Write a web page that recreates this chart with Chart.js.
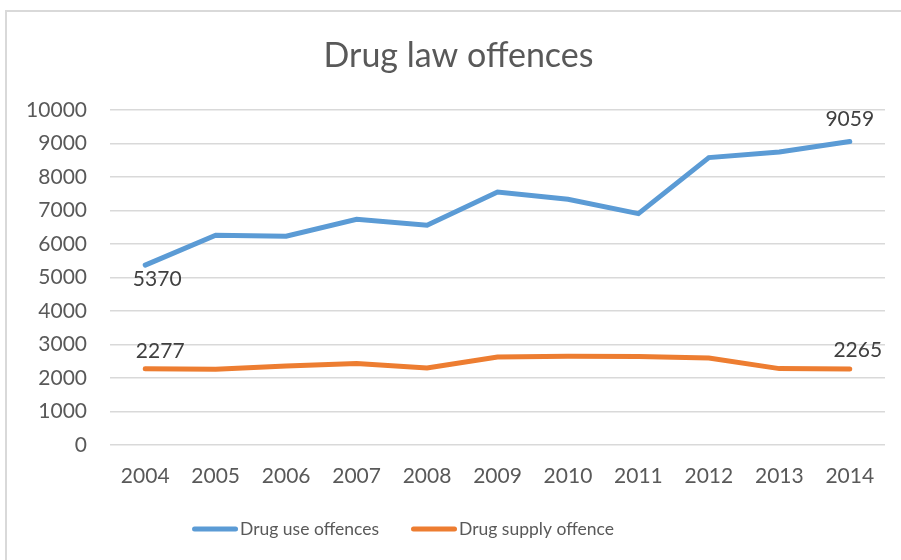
<!DOCTYPE html>
<html>
<head>
<meta charset="utf-8">
<script src="https://cdn.jsdelivr.net/npm/chart.js@4"></script>
<style>
  html, body { margin: 0; padding: 0; background: #fff; overflow: hidden; }
  #frame { position: absolute; left: 5px; top: 10px; width: 920px; height: 600px; border: 2px solid #d9d9d9; box-sizing: border-box; }
  #c { position: absolute; left: 0; top: 0; }
</style>
</head>
<body>
<div id="frame"></div>
<canvas id="c" width="901" height="560"></canvas>
<script>
// chart values
const years = ['2004', '2005', '2006', '2007', '2008', '2009', '2010', '2011', '2012', '2013', '2014'];
const useOffences = [5370, 6260, 6230, 6737, 6560, 7553, 7334, 6907, 8579, 8746, 9059];
const supplyOffences = [2277, 2260, 2360, 2430, 2300, 2627, 2648, 2640, 2597, 2280, 2265];
const yTicks = [0, 1000, 2000, 3000, 4000, 5000, 6000, 7000, 8000, 9000, 10000];

const FONT = 'Lato, "Open Sans", sans-serif';
const GREY = '#595959';

// only the end points carry a value label, like the excel original
const pointLabels = [
    { ds: 0, idx: 0, dx: 12, dy: 14 },
    { ds: 0, idx: 10, dx: 0, dy: -22 },
    { ds: 1, idx: 0, dx: 15, dy: -17 },
    { ds: 1, idx: 10, dx: 8, dy: -19 }
];

const endLabels = {
    id: 'endLabels',
    afterLayout(chart) {
        // excel centres the title on the whole frame, not on the canvas
        if (chart.titleBlock) chart.titleBlock.left = 32;
    },
    afterDatasetsDraw(chart) {
        const ctx = chart.ctx;
        ctx.save();
        ctx.font = '21px ' + FONT;
        ctx.fillStyle = '#404040';
        ctx.textAlign = 'center';
        ctx.textBaseline = 'middle';
        pointLabels.forEach(p => {
            const pt = chart.getDatasetMeta(p.ds).data[p.idx];
            const v = chart.data.datasets[p.ds].data[p.idx];
            ctx.fillText(String(v), pt.x + p.dx, pt.y + p.dy);
        });
        ctx.restore();
    }
};

// excel style legend: short thick line, text right next to it
const lineLegend = {
    id: 'lineLegend',
    afterDraw(chart) {
        const ctx = chart.ctx;
        const markW = 46, gapText = 2, gapItem = 32, centerX = 403, y = 529;
        ctx.save();
        ctx.font = '17.5px ' + FONT;
        const items = chart.data.datasets.map(ds => ({
            ds, w: markW + gapText + ctx.measureText(ds.label).width
        }));
        const total = items.reduce((s, it) => s + it.w, 0) + gapItem * (items.length - 1);
        let x = centerX - total / 2;
        items.forEach(it => {
            ctx.strokeStyle = it.ds.borderColor;
            ctx.lineWidth = 5;
            ctx.lineCap = 'round';
            ctx.beginPath();
            ctx.moveTo(x + 2.5, y);
            ctx.lineTo(x + markW - 2.5, y);
            ctx.stroke();
            ctx.fillStyle = GREY;
            ctx.textAlign = 'left';
            ctx.textBaseline = 'middle';
            ctx.fillText(it.ds.label, x + markW + gapText, y);
            x += it.w + gapItem;
        });
        ctx.restore();
    }
};

new Chart(document.getElementById('c'), {
    type: 'line',
    data: {
        labels: years,
        datasets: [
            {
                label: 'Drug use offences',
                data: useOffences,
                borderColor: '#5B9BD5',
                backgroundColor: '#5B9BD5',
                borderWidth: 5,
                borderCapStyle: 'round',
                pointRadius: 0,
                tension: 0
            },
            {
                label: 'Drug supply offence',
                data: supplyOffences,
                borderColor: '#ED7D31',
                backgroundColor: '#ED7D31',
                borderWidth: 5,
                borderCapStyle: 'round',
                pointRadius: 0,
                tension: 0
            }
        ]
    },
    options: {
        responsive: false,
        animation: false,
        layout: { padding: { top: 0, left: 0, right: 16, bottom: 55 } },
        plugins: {
            title: {
                display: true,
                text: 'Drug law offences',
                color: GREY,
                font: { family: FONT, size: 34, weight: 'normal', lineHeight: 1.2 },
                padding: { top: 36, bottom: 33.2 }
            },
            legend: { display: false },
            tooltip: { enabled: false }
        },
        scales: {
            x: {
                offset: true,
                grid: { display: false },
                border: { display: false },
                afterFit(scale) { scale.height = 60; },
                ticks: { color: GREY, font: { family: FONT, size: 21 }, padding: 11, maxRotation: 0 }
            },
            y: {
                min: 0,
                max: 10000,
                afterBuildTicks(scale) { scale.ticks = yTicks.map(v => ({ value: v })); },
                afterFit(scale) { scale.width = 110; },
                grid: { color: '#d9d9d9', lineWidth: 1.5, drawTicks: false },
                border: { display: false },
                ticks: {
                    color: GREY,
                    font: { family: FONT, size: 21 },
                    padding: 23,
                    callback: v => String(v)
                }
            }
        }
    },
    plugins: [endLabels, lineLegend]
});
</script>
</body>
</html>
